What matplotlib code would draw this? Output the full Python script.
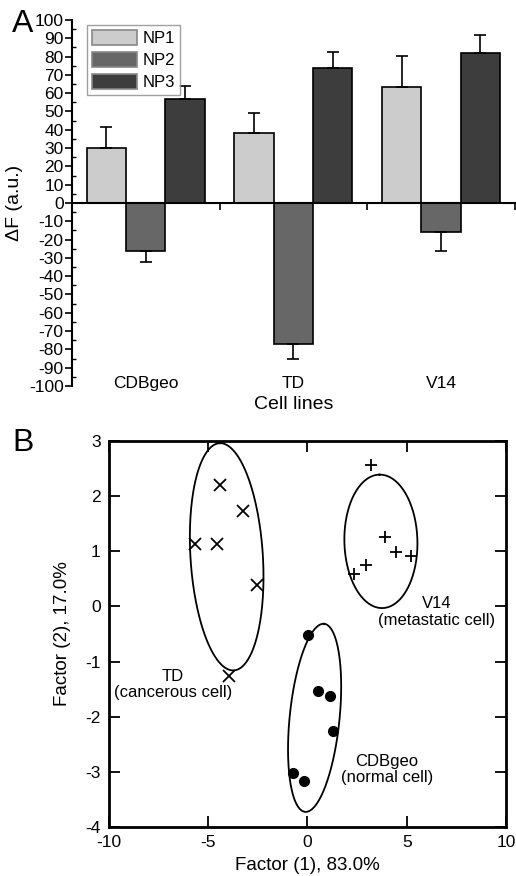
import numpy as np
import matplotlib
matplotlib.use("Agg")
import matplotlib.pyplot as plt
from matplotlib.ticker import MultipleLocator

plt.rcParams['font.family'] = ['Liberation Sans', 'DejaVu Sans']
plt.rcParams['axes.unicode_minus'] = False

# panel A data
cells = ["CDBgeo", "TD", "V14"]
np1 = [30, 38, 63.5]
np2 = [-26, -77, -16]
np3 = [57, 73.5, 82]
np1_err = [11.5, 11, 17]
np2_err = [6.5, 8.5, 10]
np3_err = [7, 9, 10]

# panel B data (PCA scores)
td_x = [-4.43, -3.26, -5.68, -4.58, -2.54, -3.96]
td_y = [2.20, 1.73, 1.13, 1.13, 0.38, -1.26]
v14_x = [3.22, 3.93, 4.46, 5.23, 2.97, 2.34]
v14_y = [2.56, 1.25, 0.99, 0.91, 0.76, 0.59]
cdb_x = [0.05, 0.52, 1.12, 1.30, -0.74, -0.18]
cdb_y = [-0.52, -1.53, -1.62, -2.25, -3.02, -3.16]

# confidence ellipses: center, major half-vector, minor half-vector
ellipses = [
    ((-4.07, 0.90), (-0.36, 2.06), (1.82, 0.04)),
    ((3.70, 1.18), (-0.07, 1.21), (1.84, 0.01)),
    ((0.36, -2.02), (0.48, 1.705), (1.25, -0.046)),
]
group_labels = [("TD\n(cancerous cell)", -6.77, -1.42),
                ("V14\n(metastatic cell)", 6.52, -0.10),
                ("CDBgeo\n(normal cell)", 4.01, -2.96)]

fig = plt.figure(figsize=(5.16, 8.76), dpi=100)

# ---------------- panel A ----------------
ax = fig.add_axes([0.1395, 0.5594, 0.858, 0.4178])
x = np.arange(len(cells))
w = 0.267
cols = ["#cccccc", "#676767", "#3d3d3d"]
for off, vals, errs, c, lab in zip([-w, 0, w], [np1, np2, np3],
                                   [np1_err, np2_err, np3_err], cols,
                                   ["NP1", "NP2", "NP3"]):
    vals = np.array(vals)
    errs = np.array(errs)
    ax.bar(x + off, vals, w, color=c, edgecolor="black", linewidth=1.2,
           label=lab, zorder=2)
    lo = np.where(vals < 0, errs, 0)
    hi = np.where(vals > 0, errs, 0)
    ax.errorbar(x + off, vals, yerr=[lo, hi], fmt="none", ecolor="black",
                elinewidth=1.2, capsize=4, capthick=1.2, zorder=3)

ax.set_xlim(-0.5, 2.5)
ax.set_ylim(-100, 100)
ax.yaxis.set_major_locator(MultipleLocator(10))
ax.yaxis.set_minor_locator(MultipleLocator(5))
ax.tick_params(axis="y", which="major", direction="out", length=5, width=1.2,
               labelsize=12.5, pad=1)
ax.tick_params(axis="y", which="minor", direction="in", length=3, width=1)
for s in ["top", "right"]:
    ax.spines[s].set_visible(False)
ax.spines["left"].set_linewidth(1.5)
ax.spines["bottom"].set_position(("data", 0))
ax.spines["bottom"].set_linewidth(1.5)
ax.spines["bottom"].set_zorder(4)
ax.set_xticks(x)
ax.set_xticklabels([])
ax.xaxis.set_minor_locator(MultipleLocator(0.5))
ax.tick_params(axis="x", which="both", direction="out", length=5, width=1.2)
for i, c in enumerate(cells):
    ax.text(i, 0.008, c, transform=ax.get_xaxis_transform(),
            ha="center", va="center", fontsize=12.5)
ax.text(0.5, -0.05, "Cell lines", transform=ax.transAxes, ha="center",
        va="center", fontsize=14)
ax.set_ylabel("ΔF (a.u.)", fontsize=14, labelpad=4)
leg = ax.legend(loc="upper left", bbox_to_anchor=(0.015, 1.01), fontsize=12,
                fancybox=False, handlelength=2.7, handleheight=1.0,
                borderpad=0.3, labelspacing=0.35, handletextpad=0.35)
leg.get_frame().set_edgecolor("#888888")
leg.get_frame().set_linewidth(1)
for h in leg.legend_handles:
    h.set_edgecolor("#888888")
fig.text(0.024, 0.973, "A", fontsize=23, ha="left", va="center")

# ---------------- panel B ----------------
bx = fig.add_axes([0.2112, 0.0559, 0.7693, 0.4407])
bx.plot(td_x, td_y, "x", color="black", ms=9, mew=1.3)
bx.plot(v14_x, v14_y, "+", color="black", ms=9, mew=1.3)
bx.plot(cdb_x, cdb_y, "o", color="black", ms=7)
t = np.linspace(0, 2 * np.pi, 300)
for (cx, cy), (ux, uy), (vx, vy) in ellipses:
    bx.plot(cx + ux * np.cos(t) + vx * np.sin(t),
            cy + uy * np.cos(t) + vy * np.sin(t), color="black", lw=1.3)
for txt, tx, ty in group_labels:
    bx.text(tx, ty, txt, ha="center", va="center", fontsize=12,
            linespacing=1.1)
bx.set_xlim(-10, 10)
bx.set_ylim(-4, 3)
bx.xaxis.set_major_locator(MultipleLocator(5))
bx.yaxis.set_major_locator(MultipleLocator(1))
bx.tick_params(direction="in", length=8, width=1.3, top=True, right=True,
               labelsize=12.5, pad=6)
for s in bx.spines.values():
    s.set_linewidth(2)
bx.set_xlabel("Factor (1), 83.0%", fontsize=13.5, labelpad=5)
bx.set_ylabel("Factor (2), 17.0%", fontsize=13.5, labelpad=10)
fig.text(0.024, 0.494, "B", fontsize=23, ha="left", va="center")

fig.savefig("out.png", dpi=100)
